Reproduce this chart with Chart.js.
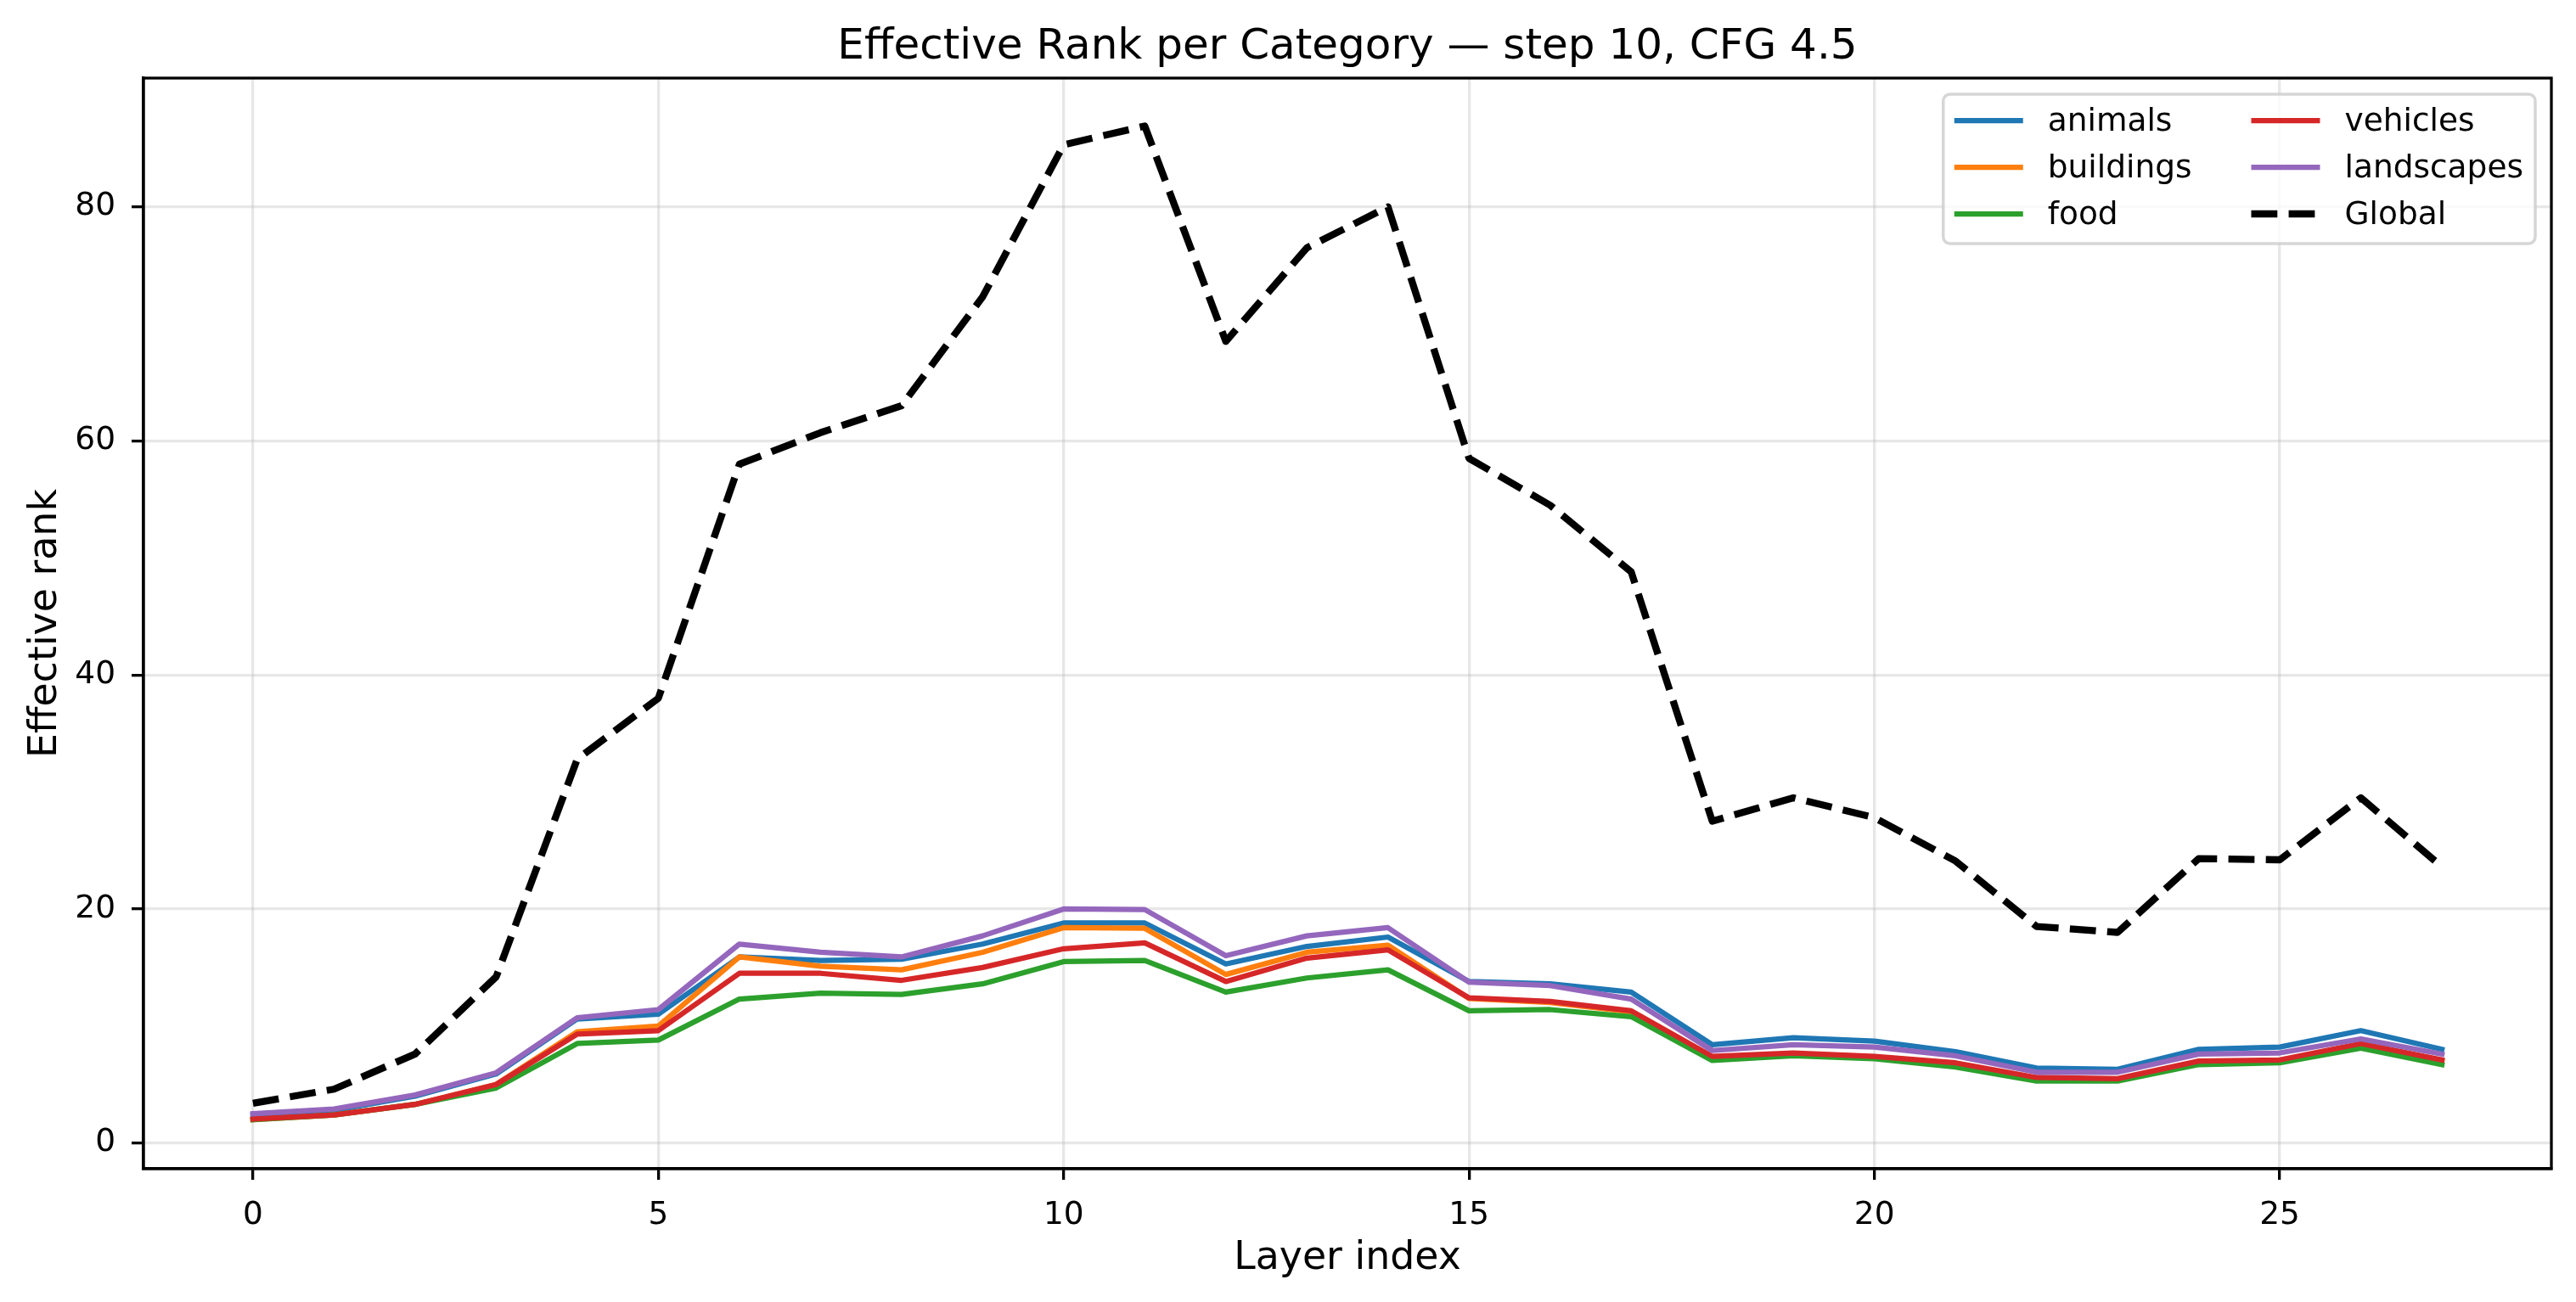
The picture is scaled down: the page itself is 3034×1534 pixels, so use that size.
<!DOCTYPE html>
<html>
<head>
<meta charset="utf-8">
<title>Effective Rank per Category</title>
<script src="https://cdn.jsdelivr.net/npm/chart.js@4.4.1/dist/chart.umd.min.js"></script>
<style>
  html, body { margin: 0; padding: 0; background: #fff; }
  #wrap { width: 3034px; height: 1534px; position: relative; }
</style>
</head>
<body>
<div id="wrap"><canvas id="rank-chart"></canvas></div>
<script>
// layer index on the x axis
const layers = [0, 1, 2, 3, 4, 5, 6, 7, 8, 9, 10, 11, 12, 13, 14, 15, 16, 17, 18, 19, 20, 21, 22, 23, 24, 25, 26, 27];

// effective rank per category
const animals    = [2.4, 2.8, 4.0, 5.9, 10.6, 11.0, 15.9, 15.6, 15.7, 17.0, 18.8, 18.8, 15.3, 16.8, 17.6, 13.8, 13.6, 12.9, 8.4, 9.0, 8.7, 7.8, 6.4, 6.3, 8.0, 8.2, 9.6, 8.0];
const buildings  = [2.0, 2.4, 3.3, 5.0, 9.5, 10.0, 15.9, 15.1, 14.8, 16.3, 18.4, 18.35, 14.4, 16.3, 16.9, 12.35, 12.0, 11.2, 7.3, 7.6, 7.35, 6.8, 5.5, 5.45, 6.9, 7.05, 8.4, 7.0];
const food       = [2.0, 2.4, 3.3, 4.7, 8.5, 8.8, 12.3, 12.8, 12.7, 13.6, 15.5, 15.6, 12.9, 14.1, 14.8, 11.3, 11.4, 10.8, 7.05, 7.45, 7.2, 6.5, 5.3, 5.3, 6.7, 6.85, 8.1, 6.7];
const vehicles   = [2.05, 2.4, 3.3, 5.0, 9.3, 9.6, 14.5, 14.5, 13.9, 15.0, 16.6, 17.1, 13.8, 15.8, 16.5, 12.4, 12.1, 11.3, 7.4, 7.7, 7.4, 6.85, 5.6, 5.5, 7.0, 7.1, 8.5, 7.1];
const landscapes = [2.5, 2.9, 4.1, 6.0, 10.7, 11.4, 17.0, 16.3, 15.9, 17.7, 20.0, 19.95, 16.0, 17.7, 18.4, 13.75, 13.45, 12.3, 7.9, 8.4, 8.2, 7.45, 6.05, 6.05, 7.6, 7.7, 8.9, 7.6];
const globalRank = [3.4, 4.6, 7.6, 14.2, 32.8, 38.0, 58.0, 60.7, 63.0, 72.3, 85.3, 86.9, 68.5, 76.5, 80.0, 58.5, 54.5, 48.8, 27.5, 29.5, 27.8, 24.1, 18.5, 18.0, 24.3, 24.2, 29.5, 23.6];

// tick labels
const xTicks = [0, 5, 10, 15, 20, 25];
const yTicks = [0, 20, 40, 60, 80];

const FONT = 'DejaVu Sans';
const GRID = 'rgba(176,176,176,0.3)';

const toPoints = (vals) => layers.map((x, i) => ({ x: x, y: vals[i] }));

// matplotlib draws later lines on top, chart.js draws lower "order" on top
const lineSet = (label, vals, color, order) => ({
    label: label,
    data: toPoints(vals),
    borderColor: color,
    backgroundColor: color,
    borderWidth: 6.25,
    borderCapStyle: 'square',
    borderJoinStyle: 'round',
    pointRadius: 0,
    tension: 0,
    order: order
});

const datasets = [
    lineSet('animals', animals, '#1f77b4', 5),
    lineSet('buildings', buildings, '#ff7f0e', 4),
    lineSet('food', food, '#2ca02c', 3),
    lineSet('vehicles', vehicles, '#d62728', 2),
    lineSet('landscapes', landscapes, '#9467bd', 1),
    {
        label: 'Global',
        data: toPoints(globalRank),
        borderColor: '#000',
        backgroundColor: '#000',
        borderWidth: 8.33,
        borderDash: [30.8, 13.3],
        borderCapStyle: 'butt',
        borderJoinStyle: 'round',
        pointRadius: 0,
        tension: 0,
        order: 0
    }
];

// title centred over the axes, like matplotlib
const centerTitle = {
    id: 'centerTitle',
    afterLayout(chart) {
        const tb = chart.titleBlock;
        if (tb) {
            tb.left = chart.chartArea.left;
            tb.right = chart.chartArea.right;
        }
    }
};

// top and right spines
const frame = {
    id: 'frame',
    afterDatasetsDraw(chart) {
        const { ctx, chartArea: a } = chart;
        ctx.save();
        ctx.strokeStyle = '#000';
        ctx.lineWidth = 3.3;
        ctx.strokeRect(a.left, a.top, a.right - a.left, a.bottom - a.top);
        ctx.restore();
    }
};

// two column legend, filled column by column
const mplLegend = {
    id: 'mplLegend',
    afterDraw(chart) {
        const { ctx, chartArea: a } = chart;
        const sets = chart.data.datasets;
        const rows = 3;
        const handle = 81, gap = 29, colGap = 70, padL = 13, padR = 14;
        const rowH = 55, firstRow = 31, boxH = 176;
        ctx.save();
        ctx.font = '37.5px "' + FONT + '"';
        const cols = [sets.slice(0, rows), sets.slice(rows)];
        const widths = cols.map(c => Math.max(...c.map(d => ctx.measureText(d.label).width)));
        const colW = widths.map(w => handle + gap + w);
        const boxW = padL + colW[0] + colGap + colW[1] + padR;
        const right = a.right - 19, top = a.top + 19;
        const left = right - boxW;

        ctx.beginPath();
        ctx.roundRect(left, top, boxW, boxH, 8);
        ctx.fillStyle = 'rgba(255,255,255,0.8)';
        ctx.fill();
        ctx.strokeStyle = 'rgba(204,204,204,0.8)';
        ctx.lineWidth = 3.5;
        ctx.stroke();

        ctx.textBaseline = 'middle';
        ctx.textAlign = 'left';
        cols.forEach((col, c) => {
            const x0 = left + padL + (c === 0 ? 0 : colW[0] + colGap);
            col.forEach((d, r) => {
                const y = top + firstRow + r * rowH;
                ctx.beginPath();
                ctx.setLineDash(d.borderDash || []);
                ctx.lineCap = 'butt';
                ctx.strokeStyle = d.borderColor;
                ctx.lineWidth = d.borderWidth;
                ctx.moveTo(x0, y);
                ctx.lineTo(x0 + handle, y);
                ctx.stroke();
                ctx.setLineDash([]);
                ctx.fillStyle = '#000';
                ctx.fillText(d.label, x0 + handle + gap, y + 2);
            });
        });
        ctx.restore();
    }
};

const ctx = document.getElementById('rank-chart').getContext('2d');
const rankChart = new Chart(ctx, {
    type: 'line',
    data: { datasets: datasets },
    plugins: [centerTitle, frame, mplLegend],
    options: {
        responsive: true,
        maintainAspectRatio: false,
        devicePixelRatio: 1,
        animation: false,
        layout: { padding: { left: 0, right: 29, top: 0, bottom: 0 } },
        plugins: {
            legend: { display: false },
            tooltip: { enabled: false },
            title: {
                display: true,
                text: 'Effective Rank per Category \u2014 step 10, CFG 4.5',
                color: '#000',
                font: { family: FONT, size: 50, weight: 'normal' },
                padding: { top: 26, bottom: 6 }
            }
        },
        scales: {
            x: {
                type: 'linear',
                min: -1.35,
                max: 28.35,
                afterBuildTicks: (scale) => { scale.ticks = xTicks.map(v => ({ value: v })); },
                afterFit: (scale) => { scale.height = 157; },
                grid: { color: GRID, lineWidth: 3.3, tickColor: '#000', tickWidth: 3.3, tickLength: 13 },
                border: { color: '#000', width: 3.3 },
                ticks: {
                    color: '#000',
                    font: { family: FONT, size: 37.5 },
                    padding: 20,
                    maxRotation: 0,
                    callback: (v) => String(v)
                },
                title: {
                    display: true,
                    text: 'Layer index',
                    color: '#000',
                    font: { family: FONT, size: 45.8 },
                    padding: { top: 0, bottom: 23 }
                }
            },
            y: {
                min: -2.2,
                max: 91,
                afterBuildTicks: (scale) => { scale.ticks = yTicks.map(v => ({ value: v })); },
                afterFit: (scale) => { scale.width = 169; },
                grid: { color: GRID, lineWidth: 3.3, tickColor: '#000', tickWidth: 3.3, tickLength: 14 },
                border: { color: '#000', width: 3.3 },
                ticks: {
                    color: '#000',
                    font: { family: FONT, size: 37.5 },
                    padding: 19,
                    callback: (v) => String(v)
                },
                title: {
                    display: true,
                    text: 'Effective rank',
                    color: '#000',
                    font: { family: FONT, size: 45.8 },
                    padding: { top: 27, bottom: 0 }
                }
            }
        }
    }
});
</script>
</body>
</html>
